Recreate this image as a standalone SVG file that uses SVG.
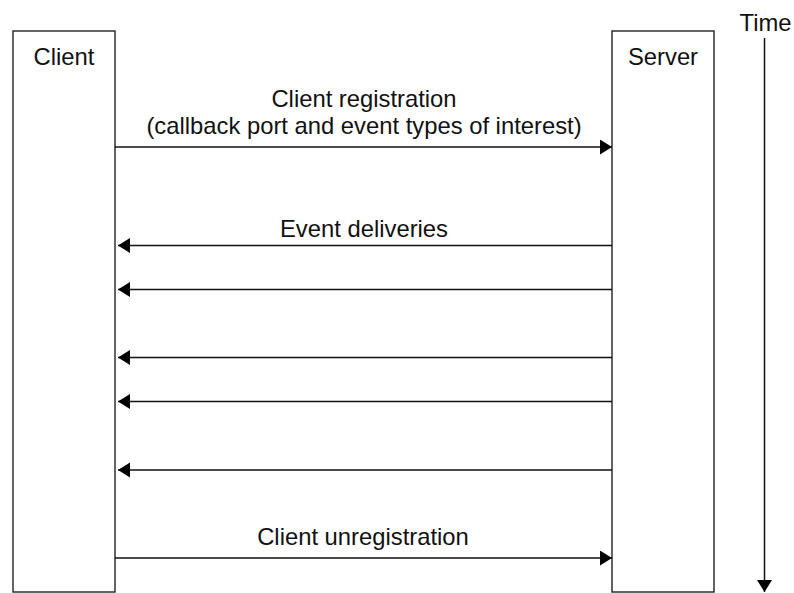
<svg xmlns="http://www.w3.org/2000/svg" width="794" height="593" viewBox="0 0 794 593">
  <style>
    .box { fill: #ffffff; stroke: #222222; stroke-width: 1.4; }
    .lbl { font-family: "Liberation Sans", Arial, sans-serif; font-size: 23.8px; fill: #111111; text-anchor: middle; }
    .msg { stroke: #111111; stroke-width: 1.5; fill: none; marker-end: url(#arrow); }
  </style>
  <defs>
    <marker id="arrow" markerUnits="userSpaceOnUse" markerWidth="13" markerHeight="16" refX="12" refY="7.5" orient="auto">
      <path d="M0,0 L12,7.5 L0,15 Z" fill="#000000"/>
    </marker>
  </defs>
  <rect width="794" height="593" fill="#ffffff"/>

  <g id="client">
    <rect class="box" x="13" y="31" width="102" height="561"/>
    <text class="lbl" x="64" y="65">Client</text>
  </g>

  <g id="server">
    <rect class="box" x="612" y="31" width="102" height="561"/>
    <text class="lbl" x="663" y="65">Server</text>
  </g>

  <g id="time">
    <text class="lbl" x="765.5" y="31">Time</text>
    <line class="msg" x1="764.5" y1="38" x2="764.5" y2="592"/>
  </g>

  <g id="connectors">
    <line class="msg" x1="115" y1="147" x2="612" y2="147"/>
    <line class="msg" x1="612" y1="245.5" x2="118" y2="245.5"/>
    <line class="msg" x1="612" y1="289.5" x2="118" y2="289.5"/>
    <line class="msg" x1="612" y1="357.5" x2="118" y2="357.5"/>
    <line class="msg" x1="612" y1="401.5" x2="118" y2="401.5"/>
    <line class="msg" x1="612" y1="470" x2="118" y2="470"/>
    <line class="msg" x1="115" y1="558" x2="612" y2="558"/>
  </g>

  <g id="labels">
    <text class="lbl" x="364" y="107">Client registration</text>
    <text class="lbl" x="364" y="134">(callback port and event types of interest)</text>
    <text class="lbl" x="364" y="237">Event deliveries</text>
    <text class="lbl" x="363" y="545">Client unregistration</text>
  </g>
</svg>
